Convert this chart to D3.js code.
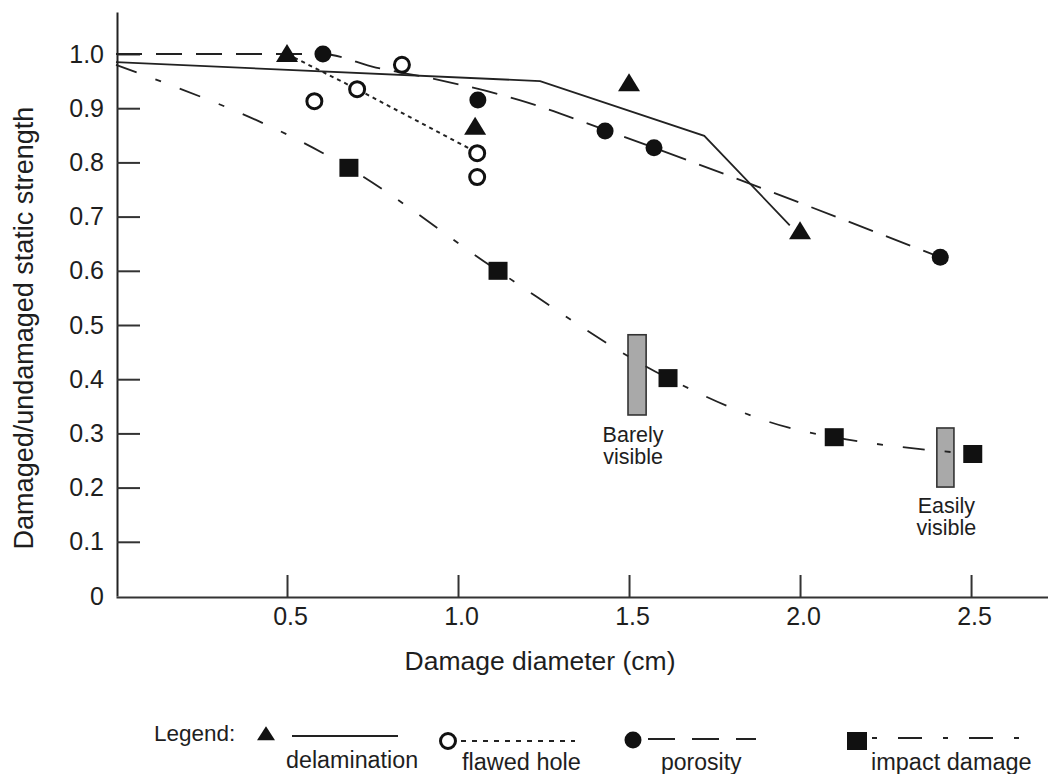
<!DOCTYPE html>
<html>
<head>
<meta charset="utf-8">
<script src="https://cdn.jsdelivr.net/npm/d3@7"></script>
<style>
  html, body { margin: 0; padding: 0; background: #fff; }
  svg { display: block; }
  text { font-family: "Liberation Sans", Arial, Helvetica, sans-serif; fill: #1e1e1e; }
</style>
</head>
<body>
<svg id="chart" width="1048" height="774"></svg>
<script>
// ---------------- data ----------------
const xTicks = [0.5, 1.0, 1.5, 2.0, 2.5];
const xTickLabels = ["0.5", "1.0", "1.5", "2.0", "2.5"];
const yTicks = [0, 0.1, 0.2, 0.3, 0.4, 0.5, 0.6, 0.7, 0.8, 0.9, 1.0];
const yTickLabels = ["0", "0.1", "0.2", "0.3", "0.4", "0.5", "0.6", "0.7", "0.8", "0.9", "1.0"];

// delamination (triangles, solid line)
const delamX = [0.5, 1.05, 1.5, 2.0];
const delamY = [1.0, 0.866, 0.946, 0.673];
const delamLineX = [0, 1.24, 1.72, 1.97];
const delamLineY = [0.985, 0.95, 0.849, 0.684];

// flawed hole (open circles, dotted line)
const holeX = [0.58, 0.705, 0.836, 1.056, 1.056];
const holeY = [0.913, 0.935, 0.98, 0.817, 0.773];
const holeLineX = [0.5, 0.62, 0.705, 1.05];
const holeLineY = [1.0, 0.962, 0.935, 0.82];

// porosity (filled circles, dashed line)
const porX = [0.605, 1.058, 1.43, 1.573, 2.41];
const porY = [1.0, 0.915, 0.858, 0.827, 0.625];
const porLineX = [0, 0.6, 0.76, 0.93, 1.18, 1.43, 1.573, 2.41];
const porLineY = [1.0, 1.0, 0.975, 0.954, 0.915, 0.86, 0.827, 0.625];

// impact damage (filled squares, dash-dot line)
const impX = [0.681, 1.117, 1.614, 2.10, 2.505];
const impY = [0.79, 0.60, 0.402, 0.293, 0.262];
const impLineX = [0, 0.681, 1.117, 1.614, 1.97, 2.10, 2.505];
const impLineY = [0.98, 0.79, 0.60, 0.402, 0.31, 0.293, 0.262];

// visibility bars
const barX0 = [1.497, 2.40];
const barX1 = [1.55, 2.45];
const barLow = [0.334, 0.201];
const barHigh = [0.482, 0.31];
const barLabels = [["Barely", "visible"], ["Easily", "visible"]];

const legendNames = ["delamination", "flawed hole", "porosity", "impact damage"];
const xTitle = "Damage diameter (cm)";
const yTitle = "Damaged/undamaged static strength";

// ---------------- drawing ----------------
const svg = d3.select("#chart");
const x = d3.scaleLinear().domain([0, 2.725]).range([116, 1048]);
const y = d3.scaleLinear().domain([0, 1.0775]).range([596, 12]);
const ink = "#222";

// bars (under lines)
const bars = svg.append("g");
barX0.forEach((b, i) => {
  bars.append("rect")
    .attr("x", x(b)).attr("y", y(barHigh[i]))
    .attr("width", x(barX1[i]) - x(b))
    .attr("height", y(barLow[i]) - y(barHigh[i]))
    .attr("fill", "#a9a9a9").attr("stroke", "#333").attr("stroke-width", 1.6);
});
const lblDx = [-4, 1];
const lblDy = [27, 26];
barLabels.forEach((lines, i) => {
  const cx = x((barX0[i] + barX1[i]) / 2) + lblDx[i];
  const by = y(barLow[i]) + lblDy[i];
  lines.forEach((s, k) => {
    svg.append("text").attr("text-anchor", "middle")
      .attr("font-size", 21.5)
      .attr("x", cx).attr("y", by + k * 22).text(s);
  });
});

// axes
const yAxis = d3.axisLeft(y).tickValues(yTicks)
  .tickFormat((d, i) => yTickLabels[i]).tickSizeInner(-23).tickSizeOuter(0).tickPadding(13);
const gy = svg.append("g").attr("transform", "translate(117,0)").call(yAxis);
gy.select(".domain").attr("stroke", ink).attr("stroke-width", 2);
gy.selectAll(".tick line").attr("stroke", "#333").attr("stroke-width", 2)
  .filter(d => d === 0).remove();
gy.selectAll(".tick text").attr("font-size", 25).attr("fill", ink)
  .attr("font-family", "'Liberation Sans', Arial, sans-serif");

const xAxis = d3.axisBottom(x).tickValues(xTicks)
  .tickFormat((d, i) => xTickLabels[i]).tickSizeInner(-22).tickSizeOuter(0).tickPadding(10);
const gx = svg.append("g").attr("transform", "translate(0,597)").call(xAxis);
gx.select(".domain").attr("stroke", "#333").attr("stroke-width", 2);
gx.selectAll(".tick line").attr("stroke", "#333").attr("stroke-width", 2);
gx.selectAll(".tick text").attr("font-size", 25).attr("fill", ink).attr("dx", 3)
  .attr("font-family", "'Liberation Sans', Arial, sans-serif");

svg.append("text").attr("x", 540).attr("y", 670).attr("text-anchor", "middle")
  .attr("font-size", 26.5).text(xTitle);
svg.append("text").attr("transform", "translate(33,328) rotate(-90)")
  .attr("text-anchor", "middle").attr("font-size", 27).text(yTitle);

// lines
const zip = (xs, ys) => xs.map((v, i) => [v, ys[i]]);
const lineLin = d3.line().x(d => x(d[0])).y(d => y(d[1]));
const lineSmooth = d3.line().x(d => x(d[0])).y(d => y(d[1])).curve(d3.curveMonotoneX);

const styles = {
  delam: { dash: null, w: 1.8 },
  hole: { dash: "4,4", w: 2 },
  por: { dash: "26,14", w: 1.8 },
  imp: { dash: "22,20,6,20", w: 1.8 }
};

svg.append("path").datum(zip(porLineX, porLineY)).attr("d", lineSmooth)
  .attr("fill", "none").attr("stroke", ink).attr("stroke-width", styles.por.w)
  .attr("stroke-dasharray", styles.por.dash);
svg.append("path").datum(zip(impLineX, impLineY)).attr("d", lineSmooth)
  .attr("fill", "none").attr("stroke", ink).attr("stroke-width", styles.imp.w)
  .attr("stroke-dasharray", styles.imp.dash);
svg.append("path").datum(zip(holeLineX, holeLineY)).attr("d", lineLin)
  .attr("fill", "none").attr("stroke", ink).attr("stroke-width", styles.hole.w)
  .attr("stroke-dasharray", styles.hole.dash);
svg.append("path").datum(zip(delamLineX, delamLineY)).attr("d", lineLin)
  .attr("fill", "none").attr("stroke", ink).attr("stroke-width", styles.delam.w);

// markers
function triPath(w, h) {
  return `M0,${-h * 0.55}L${w / 2},${h * 0.45}L${-w / 2},${h * 0.45}Z`;
}
function drawTri(g, cx, cy, w, h) {
  g.append("path").attr("d", triPath(w, h)).attr("transform", `translate(${cx},${cy})`).attr("fill", "#111");
}
function drawHole(g, cx, cy, r) {
  g.append("circle").attr("cx", cx).attr("cy", cy).attr("r", r)
    .attr("fill", "#fff").attr("stroke", "#111").attr("stroke-width", 3);
}
function drawDot(g, cx, cy, r) {
  g.append("circle").attr("cx", cx).attr("cy", cy).attr("r", r).attr("fill", "#111");
}
function drawSq(g, cx, cy, w, h) {
  g.append("rect").attr("x", cx - w / 2).attr("y", cy - h / 2).attr("width", w).attr("height", h).attr("fill", "#111");
}

const mk = svg.append("g");
delamX.forEach((v, i) => drawTri(mk, x(v), y(delamY[i]), 22, 18));
holeX.forEach((v, i) => drawHole(mk, x(v), y(holeY[i]), 7.5));
porX.forEach((v, i) => drawDot(mk, x(v), y(porY[i]), 8.5));
impX.forEach((v, i) => drawSq(mk, x(v), y(impY[i]), 19, 18));

// legend
const lg = svg.append("g");
lg.append("text").attr("x", 154).attr("y", 741).attr("font-size", 22.5).text("Legend:");
drawTri(lg, 266, 734, 18, 14);
lg.append("line").attr("x1", 292).attr("x2", 398).attr("y1", 736).attr("y2", 736)
  .attr("stroke", ink).attr("stroke-width", styles.delam.w);
lg.append("text").attr("x", 286).attr("y", 768).attr("font-size", 23.3).text(legendNames[0]);

drawHole(lg, 448, 741, 7.5);
lg.append("line").attr("x1", 461).attr("x2", 575).attr("y1", 741).attr("y2", 741)
  .attr("stroke", ink).attr("stroke-width", styles.hole.w).attr("stroke-dasharray", "5,6");
lg.append("text").attr("x", 462).attr("y", 770).attr("font-size", 23.5).text(legendNames[1]);

drawDot(lg, 633, 740, 8.5);
lg.append("line").attr("x1", 648).attr("x2", 756).attr("y1", 739).attr("y2", 739)
  .attr("stroke", ink).attr("stroke-width", styles.por.w).attr("stroke-dasharray", "27,17");
lg.append("text").attr("x", 661).attr("y", 770).attr("font-size", 23).text(legendNames[2]);

drawSq(lg, 857, 741, 20, 18);
lg.append("line").attr("x1", 872).attr("x2", 1024).attr("y1", 738).attr("y2", 738)
  .attr("stroke", ink).attr("stroke-width", styles.imp.w).attr("stroke-dasharray", "5,21,24,21");
lg.append("text").attr("x", 871).attr("y", 770).attr("font-size", 23.5).text(legendNames[3]);
</script>
</body>
</html>
